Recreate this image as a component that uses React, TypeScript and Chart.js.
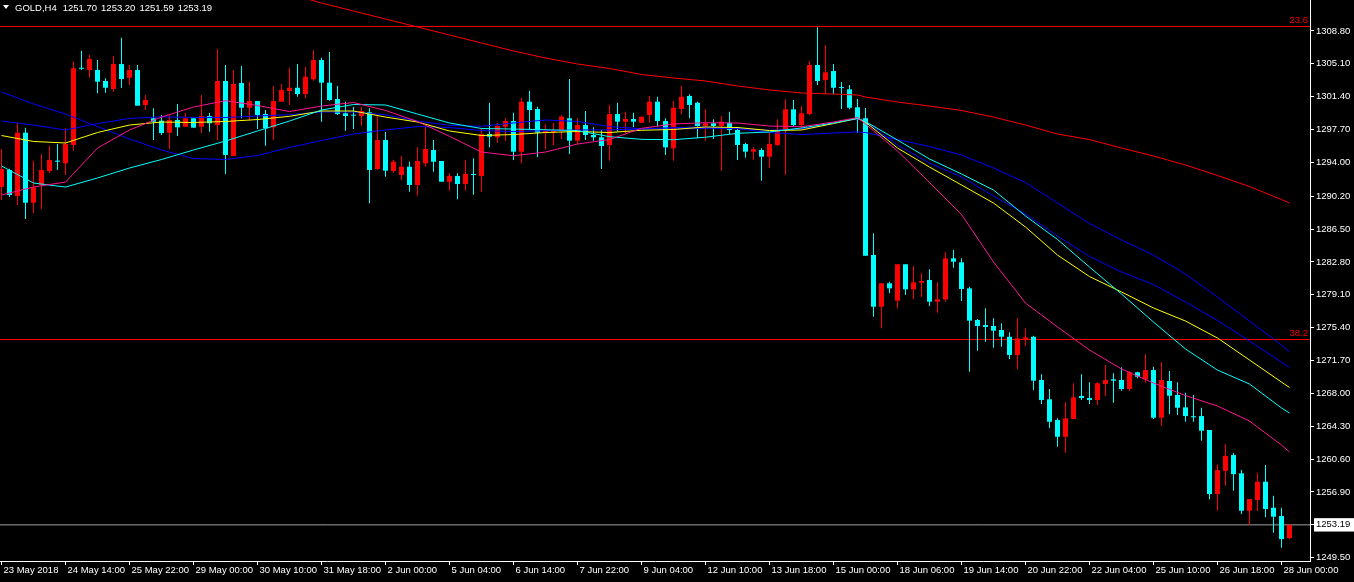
import { useEffect, useRef } from "react";
import { Chart, registerables } from "chart.js";

Chart.register(...registerables);

// ---------- DATA ----------
const OPEN = [
  1291.23, 1293.15, 1290.22, 1297.35, 1289.46, 1291.46, 1293.03, 1294.2, 1293.9, 1295.96,
  1304.65, 1304.41, 1304.41, 1303.17, 1302.27, 1305.08, 1303.54, 1304.41, 1300.47, 1298.97,
  1298.7, 1297.35, 1298.78, 1298.02, 1298.97, 1298.02, 1299.23, 1298.21, 1303.17, 1294.72,
  1302.94, 1300.16, 1300.92, 1299.45, 1297.95, 1300.84, 1302.04, 1302.41, 1301.7, 1303.36,
  1305.53, 1302.98, 1301.14, 1299.53, 1299.35, 1299.23, 1299.65, 1293.26, 1296.52, 1293.03,
  1292.58, 1293.52, 1291.46, 1293.9, 1295.4, 1294.16, 1291.83, 1292.47, 1291.57, 1292.66,
  1292.47, 1297.2, 1296.83, 1298.02, 1298.66, 1295.21, 1300.84, 1300.02, 1297.35, 1297.4,
  1297.57, 1298.97, 1296.45, 1298.21, 1297.09, 1296.83, 1295.96, 1299.45, 1298.59, 1298.89,
  1298.47, 1299.34, 1300.84, 1298.66, 1295.59, 1300.02, 1301.48, 1300.72, 1298.1, 1298.41,
  1298.1, 1298.47, 1297.65, 1296.07, 1295.21, 1295.4, 1294.65, 1295.96, 1297.57, 1299.98,
  1298.21, 1299.45, 1304.97, 1303.28, 1304.29, 1302.45, 1302.23, 1300.21, 1298.97, 1283.58,
  1277.75, 1280.39, 1278.43, 1282.53, 1279.71, 1280.46, 1280.76, 1278.32, 1278.59, 1283.2,
  1282.75, 1279.82, 1276.26, 1275.69, 1275.58, 1275.13, 1274.37, 1272.31, 1274.07, 1274.37,
  1269.5, 1267.33, 1264.99, 1263.11, 1265.11, 1267.7, 1267.47, 1267.25, 1269.05, 1269.58,
  1269.5, 1268.49, 1270.37, 1269.58, 1270.62, 1265.25, 1269.39, 1267.81, 1266.42, 1265.42,
  1265.44, 1263.87, 1256.66, 1259.28, 1261.05, 1258.99, 1254.78, 1255.99, 1258.05, 1255.12,
  1254.18, 1251.7,
];
const HIGH = [
  1295.51, 1293.3, 1298.47, 1297.91, 1294.19, 1294.95, 1295.88, 1296.07, 1297.84, 1305.34,
  1306.58, 1306.1, 1305.53, 1303.47, 1305.98, 1308.04, 1304.97, 1304.97, 1301.59, 1300.09,
  1299.34, 1299.34, 1300.58, 1299.57, 1298.97, 1301.59, 1299.57, 1306.77, 1304.97, 1304.41,
  1304.86, 1303.09, 1300.92, 1299.9, 1302.61, 1302.83, 1304.67, 1305.08, 1304.78, 1306.66,
  1305.79, 1306.43, 1302.61, 1300.84, 1300.27, 1300.27, 1300.09, 1299.23, 1297.43, 1294.3,
  1294.72, 1294.08, 1295.7, 1298.02, 1296.52, 1294.16, 1292.77, 1292.77, 1294.27, 1294.46,
  1297.84, 1300.72, 1298.41, 1298.97, 1299.6, 1301.29, 1302.08, 1300.27, 1298.33, 1298.47,
  1299.34, 1303.39, 1298.97, 1299.79, 1297.95, 1297.65, 1300.47, 1300.72, 1299.71, 1299.6,
  1299.15, 1301.48, 1301.4, 1298.97, 1300.92, 1302.61, 1301.67, 1300.84, 1300.02, 1298.86,
  1299.23, 1299.71, 1298.02, 1296.22, 1295.7, 1295.59, 1297.35, 1298.86, 1301.11, 1301.03,
  1300.35, 1305.42, 1309.22, 1307.22, 1305.08, 1303.06, 1302.72, 1301.14, 1300.13, 1286.02,
  1280.39, 1280.57, 1282.53, 1282.53, 1282.34, 1281.51, 1281.96, 1280.5, 1283.88, 1284.14,
  1283.2, 1280.0, 1276.37, 1277.57, 1276.45, 1275.88, 1274.87, 1276.45, 1275.32, 1274.49,
  1270.14, 1268.49, 1265.18, 1266.99, 1269.13, 1270.14, 1269.24, 1269.24, 1271.19, 1270.25,
  1270.93, 1270.51, 1270.43, 1272.43, 1270.99, 1271.49, 1270.51, 1269.24, 1268.07, 1267.81,
  1266.38, 1263.87, 1260.0, 1262.29, 1261.31, 1259.36, 1256.1, 1259.06, 1259.93, 1256.47,
  1255.12, 1253.2,
];
const LOW = [
  1289.77, 1290.11, 1289.21, 1287.63, 1288.27, 1288.75, 1292.77, 1293.15, 1292.58, 1295.32,
  1304.41, 1303.54, 1301.78, 1301.85, 1301.96, 1302.41, 1302.72, 1300.39, 1299.9, 1296.52,
  1297.09, 1295.51, 1296.97, 1298.02, 1297.91, 1297.28, 1297.46, 1296.52, 1292.7, 1294.72,
  1298.97, 1298.7, 1297.76, 1295.88, 1296.52, 1300.84, 1300.47, 1301.4, 1301.22, 1303.2,
  1298.59, 1300.95, 1299.34, 1297.57, 1297.76, 1298.1, 1289.4, 1293.15, 1292.39, 1292.8,
  1292.02, 1290.7, 1290.25, 1293.52, 1292.96, 1291.83, 1290.82, 1289.85, 1290.82, 1290.37,
  1290.7, 1295.7, 1296.22, 1296.41, 1294.27, 1293.9, 1297.73, 1294.58, 1295.48, 1295.96,
  1296.64, 1294.95, 1296.07, 1296.52, 1296.45, 1293.26, 1294.19, 1297.46, 1297.2, 1297.95,
  1298.47, 1298.47, 1298.02, 1294.84, 1294.19, 1299.45, 1298.97, 1296.72, 1296.45, 1296.64,
  1293.07, 1297.2, 1294.27, 1294.53, 1294.27, 1291.94, 1293.41, 1295.85, 1292.58, 1298.02,
  1297.65, 1299.34, 1302.72, 1301.7, 1301.7, 1300.02, 1299.98, 1297.35, 1283.5, 1276.63,
  1275.32, 1279.26, 1277.57, 1279.07, 1278.59, 1278.88, 1277.83, 1277.08, 1278.32, 1282.14,
  1278.39, 1270.43, 1272.8, 1273.81, 1273.14, 1273.25, 1271.83, 1270.7, 1273.33, 1268.37,
  1266.8, 1264.06, 1261.99, 1261.31, 1265.11, 1267.25, 1266.8, 1266.68, 1267.7, 1266.94,
  1268.29, 1268.29, 1269.69, 1269.19, 1265.11, 1264.35, 1265.67, 1265.56, 1264.8, 1264.8,
  1262.66, 1256.06, 1254.78, 1257.6, 1257.03, 1254.41, 1253.14, 1254.78, 1254.04, 1252.3,
  1250.61, 1251.59,
];
const CLOSE = [
  1293.26, 1290.33, 1297.35, 1289.46, 1291.2, 1293.15, 1294.27, 1294.08, 1296.07, 1304.6,
  1304.55, 1305.65, 1303.09, 1302.41, 1305.08, 1303.39, 1304.41, 1300.39, 1301.03, 1298.59,
  1297.31, 1298.78, 1297.95, 1298.97, 1297.91, 1299.23, 1298.41, 1303.17, 1294.84, 1302.83,
  1300.16, 1300.92, 1299.34, 1297.84, 1300.92, 1302.16, 1302.41, 1301.7, 1303.65, 1305.53,
  1302.98, 1301.03, 1299.45, 1299.23, 1299.27, 1299.79, 1293.15, 1296.52, 1293.07, 1294.08,
  1293.52, 1291.46, 1294.16, 1295.51, 1294.08, 1291.83, 1292.47, 1291.57, 1292.7, 1292.58,
  1297.2, 1296.9, 1298.1, 1298.66, 1295.21, 1300.84, 1299.9, 1297.35, 1297.57, 1297.57,
  1299.15, 1296.45, 1298.21, 1297.09, 1296.83, 1295.85, 1299.45, 1298.59, 1298.89, 1298.59,
  1299.15, 1300.84, 1298.66, 1295.7, 1300.16, 1301.4, 1300.47, 1298.1, 1298.41, 1298.1,
  1298.59, 1297.65, 1295.96, 1295.21, 1295.48, 1294.65, 1296.07, 1297.57, 1299.98, 1298.21,
  1299.53, 1304.97, 1303.17, 1304.15, 1302.41, 1302.37, 1300.16, 1298.86, 1283.5, 1277.75,
  1280.39, 1279.82, 1282.53, 1279.71, 1280.5, 1280.65, 1278.32, 1278.59, 1283.2, 1282.82,
  1279.75, 1276.18, 1275.58, 1275.47, 1275.05, 1274.37, 1272.31, 1274.19, 1274.3, 1269.42,
  1267.25, 1264.8, 1263.11, 1265.18, 1267.55, 1267.47, 1267.25, 1269.13, 1269.5, 1269.42,
  1268.49, 1270.37, 1269.87, 1270.62, 1265.25, 1269.5, 1267.73, 1266.38, 1265.44, 1265.3,
  1263.79, 1256.66, 1259.36, 1260.94, 1258.91, 1254.78, 1256.1, 1258.05, 1254.97, 1254.11,
  1251.59, 1253.19,
];

// moving averages, sampled at these bar indexes
const MA_BARS = [
  0, 4, 8, 12, 16, 20, 24, 28, 32, 36, 40, 44, 48, 52, 56, 60, 64, 68, 72, 76, 80, 84, 88, 92,
  96, 100, 104, 107, 108, 112, 116, 120, 124, 128, 132, 136, 140, 144, 148, 152, 156, 160, 161,
];
const MA_BLUE_SLOW = [
  1301.93, 1300.58, 1299.45, 1298.04, 1296.64, 1295.4, 1294.44, 1294.33, 1294.78, 1295.68,
  1296.47, 1297.2, 1297.65, 1298.04, 1297.93, 1297.59, 1297.48, 1297.57, 1297.65, 1297.67,
  1297.76, 1297.93, 1297.99, 1297.8, 1297.37, 1297.14, 1297.31, 1297.43, 1297.37, 1296.58,
  1295.79, 1294.84, 1293.37, 1291.74, 1289.43, 1287.12, 1285.26, 1283.57, 1281.43, 1278.84,
  1276.14, 1273.44, 1272.65,
];
const MA_BLUE_FAST = [
  1298.66, 1298.21, 1297.65, 1298.38, 1298.95, 1299.14, 1299.06, 1299.06, 1299.23, 1299.37,
  1299.68, 1299.68, 1299.36, 1298.66, 1298.18, 1298.07, 1298.44, 1298.78, 1298.61, 1298.04,
  1297.79, 1297.76, 1297.84, 1297.84, 1297.62, 1297.76, 1298.44, 1298.89, 1298.61, 1295.96,
  1293.93, 1292.36, 1290.22, 1288.19, 1285.71, 1283.41, 1281.66, 1280.25, 1278.28, 1276.2,
  1273.89, 1271.52, 1270.91,
];
const MA_YELLOW = [
  1297.03, 1296.36, 1296.19, 1297.37, 1298.21, 1298.55, 1298.5, 1298.61, 1298.83, 1299.19,
  1299.79, 1299.79, 1299.11, 1298.55, 1297.54, 1297.03, 1297.14, 1297.37, 1297.48, 1297.37,
  1297.62, 1297.71, 1297.99, 1297.93, 1297.59, 1297.65, 1298.38, 1298.95, 1298.55, 1295.62,
  1293.48, 1291.46, 1289.43, 1286.73, 1283.57, 1281.15, 1279.41, 1277.61, 1276.14, 1274.23,
  1271.75, 1269.27, 1268.65,
];
const MA_CYAN = [
  1293.6, 1291.68, 1291.23, 1292.25, 1293.37, 1294.33, 1295.4, 1296.41, 1297.54, 1298.66,
  1299.9, 1300.52, 1300.47, 1299.45, 1298.44, 1297.82, 1297.76, 1297.68, 1297.59, 1296.9,
  1296.6, 1296.56, 1296.84, 1297.28, 1297.43, 1297.88, 1298.44, 1298.97, 1298.61, 1296.52,
  1294.39, 1292.7, 1290.89, 1287.97, 1285.32, 1282.22, 1279.18, 1276.03, 1272.99, 1270.62,
  1269.05, 1266.35, 1265.78,
];
const MA_PINK = [
  1290.33, 1291.23, 1291.79, 1295.62, 1297.65, 1299.11, 1300.24, 1300.95, 1300.41, 1299.73,
  1300.35, 1300.75, 1299.85, 1298.61, 1296.94, 1295.17, 1294.75, 1295.17, 1296.07, 1296.58,
  1297.84, 1298.33, 1298.47, 1298.44, 1298.1, 1298.02, 1298.55, 1299.06, 1298.33, 1295.29,
  1291.74, 1288.14, 1282.79, 1278.17, 1275.47, 1272.88, 1270.74, 1269.16, 1267.75, 1266.57,
  1264.88, 1262.18, 1261.39,
];
const RED_BARS = [
  32, 36, 40, 44, 48, 52, 56, 60, 64, 68, 72, 76, 80, 84, 88, 92, 96, 100, 104, 107, 108, 112,
  116, 120, 124, 128, 132, 136, 140, 144, 148, 152, 156, 160, 161,
];
const MA_RED = [
  1313.87, 1312.97, 1311.95, 1311.05, 1310.15, 1309.25, 1308.35, 1307.45, 1306.55, 1305.76,
  1305.08, 1304.58, 1303.9, 1303.51, 1303.17, 1302.61, 1302.16, 1301.82, 1301.7, 1301.59,
  1301.37, 1300.8, 1300.35, 1299.85, 1299.11, 1298.21, 1297.2, 1296.58, 1295.62, 1294.72,
  1293.71, 1292.53, 1291.29, 1289.82, 1289.43,
];

const FIB_LEVELS = [1309.31, 1274.06];
const FIB_LABELS = ["23.6", "38.2"];
const CURRENT_PRICE = 1253.19;

const Y_TICKS = [
  1308.8, 1305.1, 1301.4, 1297.7, 1294.0, 1290.2, 1286.5, 1282.8, 1279.1, 1275.4, 1271.7,
  1268.0, 1264.3, 1260.6, 1256.9, 1249.5,
];
const X_TICK_BARS = [0, 8, 16, 24, 32, 40, 48, 56, 64, 72, 80, 88, 96, 104, 112, 120, 128, 136, 144, 152, 160];
const X_TICK_LABELS = [
  "23 May 2018", "24 May 14:00", "25 May 22:00", "29 May 00:00", "30 May 10:00", "31 May 18:00",
  "2 Jun 00:00", "5 Jun 04:00", "6 Jun 14:00", "7 Jun 22:00", "9 Jun 04:00", "12 Jun 10:00",
  "13 Jun 18:00", "15 Jun 00:00", "18 Jun 06:00", "19 Jun 14:00", "20 Jun 22:00", "22 Jun 04:00",
  "25 Jun 10:00", "26 Jun 18:00", "28 Jun 00:00",
];

const LEGEND_SYMBOL = "GOLD,H4";
const LEGEND_VALUES = [1251.7, 1253.2, 1251.59, 1253.19];

// ---------- STYLE ----------
const Y_MIN = 1249.12;
const Y_MAX = 1312.29;
const X_MIN = -0.1875;
const X_MAX = 163.5625;
const UP_COLOR = "#FF0000";
const DOWN_COLOR = "#00FFFF";
const FONT_FAMILY = '"Liberation Sans", Arial, sans-serif';
const FONT_SIZE = 9.5;

export default function App() {
  const ref = useRef<HTMLCanvasElement>(null);

  useEffect(() => {
    document.body.style.margin = "0";
    document.body.style.background = "#000";
    const canvas = ref.current;
    if (!canvas) return;

    const idx = OPEN.map((_, i) => i);
    const colors = idx.map((i) => (CLOSE[i] >= OPEN[i] ? UP_COLOR : DOWN_COLOR));
    const wicks = idx.map((i) => ({ x: i, y: [LOW[i], HIGH[i]] }));
    const bodies = idx.map((i) => ({ x: i, y: [OPEN[i], CLOSE[i]] }));
    const maLine = (bars: number[], vals: number[]) => bars.map((b, k) => ({ x: b, y: vals[k] }));
    const hLine = (v: number) => [
      { x: X_MIN, y: v },
      { x: X_MAX, y: v },
    ];

    const lineBase = {
      type: "line" as const,
      borderWidth: 1,
      pointRadius: 0,
      tension: 0,
      fill: false,
    };

    const fibLabels = {
      id: "fibLabels",
      afterDatasetsDraw(chart: any) {
        const { ctx, chartArea, scales } = chart;
        ctx.save();
        ctx.font = `${FONT_SIZE}px ${FONT_FAMILY}`;
        ctx.fillStyle = "#FF0000";
        ctx.textAlign = "right";
        ctx.textBaseline = "bottom";
        FIB_LEVELS.forEach((lv, k) => {
          ctx.fillText(FIB_LABELS[k], chartArea.right - 2, scales.y.getPixelForValue(lv) - 1);
        });
        ctx.restore();
      },
    };

    const chart = new Chart(canvas, {
      type: "bar",
      data: {
        datasets: [
          { ...lineBase, label: "fib23", data: hLine(FIB_LEVELS[0]), borderColor: "#FF0000", order: 10 },
          { ...lineBase, label: "fib38", data: hLine(FIB_LEVELS[1]), borderColor: "#FF0000", order: 10 },
          { ...lineBase, label: "price", data: hLine(CURRENT_PRICE), borderColor: "#A0A0A0", order: 10 },
          {
            type: "bar",
            label: "wicks",
            data: wicks as any,
            backgroundColor: colors,
            barThickness: 1,
            grouped: false,
            borderWidth: 0,
            inflateAmount: 0,
            minBarLength: 1,
            order: 5,
          } as any,
          {
            type: "bar",
            label: "bodies",
            data: bodies as any,
            backgroundColor: colors,
            barThickness: 5,
            grouped: false,
            borderWidth: 0,
            inflateAmount: 0,
            minBarLength: 1,
            order: 4,
          } as any,
          { ...lineBase, label: "MA red", data: maLine(RED_BARS, MA_RED), borderColor: "#FF0000", order: 3 },
          { ...lineBase, label: "MA blue slow", data: maLine(MA_BARS, MA_BLUE_SLOW), borderColor: "#0000FF", order: 2 },
          { ...lineBase, label: "MA blue fast", data: maLine(MA_BARS, MA_BLUE_FAST), borderColor: "#0000FF", order: 2 },
          { ...lineBase, label: "MA cyan", data: maLine(MA_BARS, MA_CYAN), borderColor: "#00FFFF", order: 1 },
          { ...lineBase, label: "MA yellow", data: maLine(MA_BARS, MA_YELLOW), borderColor: "#FFFF00", order: 1 },
          { ...lineBase, label: "MA pink", data: maLine(MA_BARS, MA_PINK), borderColor: "#FF1493", order: 0 },
        ] as any,
      },
      options: {
        animation: false,
        responsive: false,
        maintainAspectRatio: false,
        devicePixelRatio: 1,
        events: [],
        layout: { padding: 0 },
        plugins: {
          legend: { display: false },
          tooltip: { enabled: false },
          title: { display: false },
        },
        scales: {
          x: {
            type: "linear",
            position: "bottom",
            min: X_MIN,
            max: X_MAX,
            offset: false,
            afterBuildTicks: (s: any) => {
              s.ticks = X_TICK_BARS.map((v) => ({ value: v }));
            },
            afterFit: (s: any) => {
              s.height = 21;
              s.paddingLeft = 0;
              s.paddingRight = 0;
            },
            border: { display: true, color: "#FFFFFF", width: 1 },
            grid: {
              offset: false,
              drawOnChartArea: false,
              drawTicks: true,
              tickLength: 4,
              color: "#FFFFFF",
            },
            ticks: {
              color: "#FFFFFF",
              font: { family: FONT_FAMILY, size: FONT_SIZE },
              align: "start",
              labelOffset: 2,
              padding: 0,
              maxRotation: 0,
              minRotation: 0,
              autoSkip: false,
              callback: (_v: any, i: number) => X_TICK_LABELS[i],
            },
          },
          y: {
            type: "linear",
            position: "right",
            min: Y_MIN,
            max: Y_MAX,
            beginAtZero: false,
            afterBuildTicks: (s: any) => {
              s.ticks = [...Y_TICKS, CURRENT_PRICE].map((v) => ({ value: v }));
            },
            afterFit: (s: any) => {
              s.width = 44;
              s.paddingTop = 0;
              s.paddingBottom = 0;
            },
            border: { display: true, color: "#FFFFFF", width: 1 },
            grid: {
              drawOnChartArea: false,
              drawTicks: true,
              tickLength: 4,
              color: "#FFFFFF",
            },
            ticks: {
              color: (c: any) => (c.tick && c.tick.value === CURRENT_PRICE ? "#000000" : "#FFFFFF"),
              font: { family: FONT_FAMILY, size: FONT_SIZE },
              padding: 2,
              autoSkip: false,
              showLabelBackdrop: (c: any) => !!(c.tick && c.tick.value === CURRENT_PRICE),
              backdropColor: "#FFFFFF",
              backdropPadding: { top: 1, bottom: 1, left: 2, right: 8 },
              callback: (v: any) => Number(v).toFixed(2),
            },
          },
        },
      } as any,
      plugins: [fibLabels],
    });

    return () => chart.destroy();
  }, []);

  return (
    <div style={{ position: "relative", width: 1354, height: 582, background: "#000", overflow: "hidden" }}>
      <canvas ref={ref} width={1354} height={582} style={{ display: "block" }} />
      <div
        style={{
          position: "absolute",
          left: 3,
          top: 1,
          height: 12,
          display: "flex",
          alignItems: "center",
          color: "#FFFFFF",
          fontFamily: FONT_FAMILY,
          fontSize: FONT_SIZE,
          whiteSpace: "pre",
        }}
      >
        <span
          style={{
            width: 0,
            height: 0,
            borderLeft: "3.5px solid transparent",
            borderRight: "3.5px solid transparent",
            borderTop: "4px solid #FFFFFF",
            marginRight: 6,
          }}
        />
        <span>{LEGEND_SYMBOL}</span>
        {LEGEND_VALUES.map((v, k) => (
          <span key={k} style={{ marginLeft: k === 0 ? 6 : 4 }}>
            {v.toFixed(2)}
          </span>
        ))}
      </div>
    </div>
  );
}
